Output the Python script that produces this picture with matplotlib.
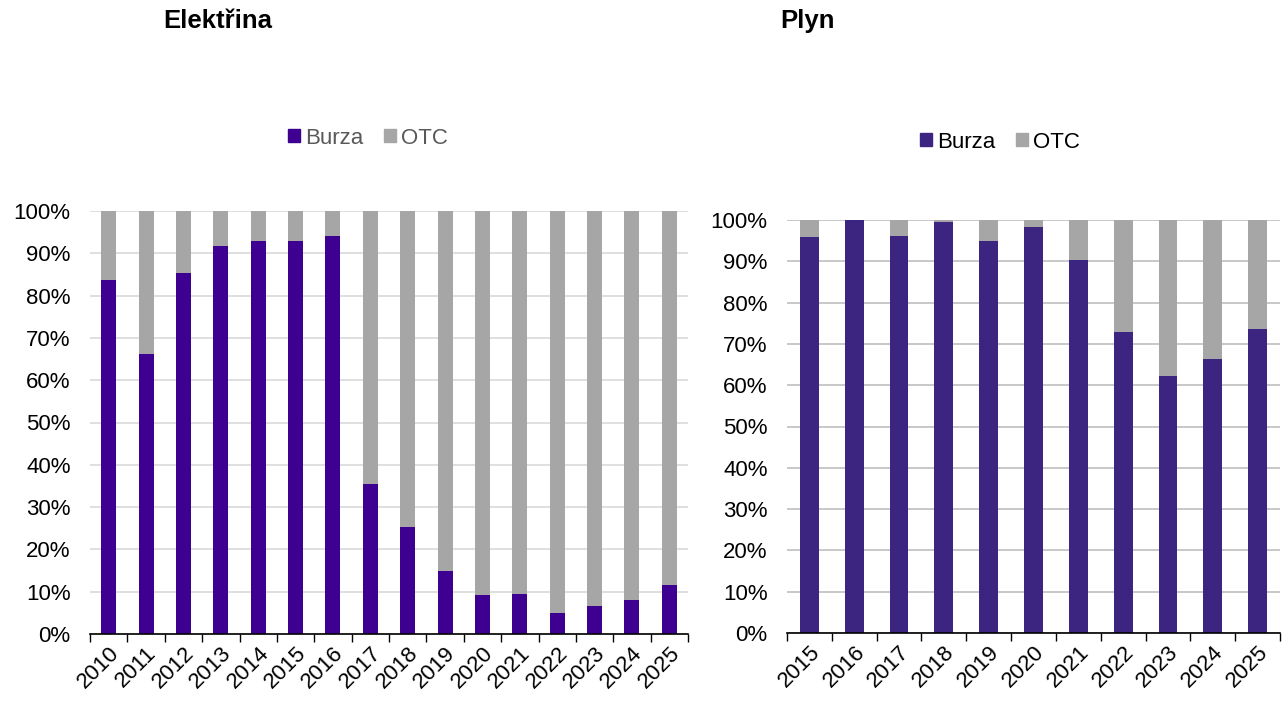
import matplotlib.pyplot as plt
import numpy as np
from matplotlib.ticker import PercentFormatter
from matplotlib.patches import Patch

plt.rcParams['font.family'] = ['Liberation Sans', 'DejaVu Sans']

# Elektřina
el_years = [str(y) for y in range(2010, 2026)]
el_burza = [83.8, 66.1, 85.4, 91.7, 92.9, 92.9, 94.1, 35.5, 25.3, 15.0, 9.2, 9.5, 4.9, 6.7, 8.0, 11.5]

# Plyn
gas_years = [str(y) for y in range(2015, 2026)]
gas_burza = [96.0, 100.0, 96.2, 99.4, 94.8, 98.4, 90.4, 73.0, 62.2, 66.3, 73.7]

el_color = '#3d0091'
gas_color = '#3c2580'
otc_color = '#a6a6a6'

W, H = 1283, 708
fig = plt.figure(figsize=(W / 100, H / 100), dpi=100)

ax1 = fig.add_axes([90 / W, (H - 634) / H, (688 - 90) / W, (634 - 211) / H])
ax2 = fig.add_axes([787 / W, (H - 633) / H, (1280 - 787) / W, (633 - 220) / H])

FS = 16


def draw(ax, years, burza, color, width, grid_color, legend_color, legend_y, legend_x):
    x = np.arange(len(years))
    otc = [100 - b for b in burza]
    ax.bar(x, burza, width, color=color, zorder=3, label='Burza')
    ax.bar(x, otc, width, bottom=burza, color=otc_color, zorder=3, label='OTC')
    ax.set_xlim(-0.5, len(years) - 0.5)
    ax.set_ylim(0, 100)
    ax.set_yticks(np.arange(0, 101, 10))
    ax.yaxis.set_major_formatter(PercentFormatter(decimals=0))
    ax.set_xticks(x)
    ax.set_xticklabels(years, rotation=45, ha='right', rotation_mode='anchor')
    ax.set_xticks(np.arange(-0.5, len(years), 1), minor=True)
    ax.tick_params(axis='x', which='major', length=0, labelsize=FS, pad=6)
    ax.tick_params(axis='x', which='minor', length=6, direction='out', width=1)
    ax.tick_params(axis='y', length=0, labelsize=FS, pad=14)
    ax.grid(axis='y', color=grid_color, linewidth=1.2, zorder=0)
    for s in ['top', 'right', 'left']:
        ax.spines[s].set_visible(False)
    ax.spines['bottom'].set_linewidth(1.2)
    ax.spines['bottom'].set_zorder(4)
    handles = [Patch(color=color), Patch(color=otc_color)]
    leg = fig.legend(handles, ['Burza', 'OTC'], loc='center', ncol=2,
                     bbox_to_anchor=(legend_x / W, 1 - legend_y / H), frameon=False,
                     fontsize=FS, handlelength=0.55, handleheight=0.55,
                     handletextpad=0.25, columnspacing=0.9)
    for t in leg.get_texts():
        t.set_color(legend_color)


draw(ax1, el_years, el_burza, el_color, 0.4, '#d9d9d9', '#595959', 138, 368)
draw(ax2, gas_years, gas_burza, gas_color, 0.42, '#bfbfbf', '#000000', 142, 1000)

fig.text(163 / W, 1 - 21 / H, 'Elektřina', fontsize=18.5, fontweight='bold', va='center', ha='left')
fig.text(780 / W, 1 - 21 / H, 'Plyn', fontsize=18.5, fontweight='bold', va='center', ha='left')

fig.savefig('out.png', dpi=100)
